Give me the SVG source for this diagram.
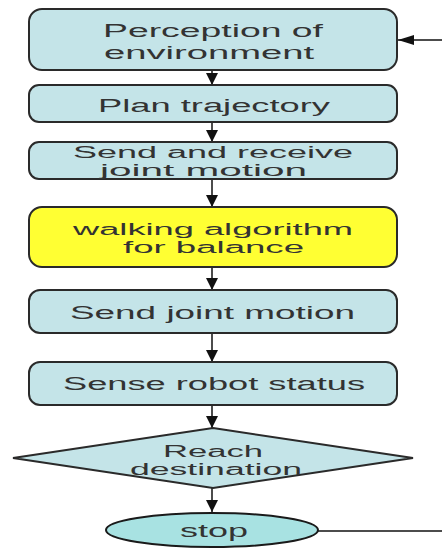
<svg xmlns="http://www.w3.org/2000/svg" width="442" height="548" viewBox="0 0 442 548">
<defs>
<style>
.box{fill:#c4e4e8;stroke:#2a2a2a;stroke-width:2}
.yel{fill:#ffff33;stroke:#2a2a2a;stroke-width:2}
.ell{fill:#a8e2e2;stroke:#1a1a1a;stroke-width:2}
.t{font-family:"Liberation Sans",Arial,sans-serif;font-size:18px;fill:#333}
.s{font-size:16px}
.c{stroke:#111;stroke-width:1.5;fill:none}
</style>
<marker id="ah" viewBox="0 0 12 12" refX="12" refY="6" markerWidth="12" markerHeight="12" markerUnits="userSpaceOnUse" orient="auto">
<path d="M0,0 L12,6 L0,12 Z" fill="#111"/>
</marker>
<marker id="ah2" viewBox="0 0 16 10" refX="16" refY="5" markerWidth="16" markerHeight="10" markerUnits="userSpaceOnUse" orient="auto">
<path d="M0,0 L16,5 L0,10 Z" fill="#111"/>
</marker>
</defs>
<rect width="442" height="548" fill="#fff"/>
<g id="connectors">
<line class="c" x1="212" y1="70" x2="212" y2="85" marker-end="url(#ah)"/>
<line class="c" x1="212" y1="122" x2="212" y2="142" marker-end="url(#ah)"/>
<line class="c" x1="212" y1="179" x2="212" y2="207" marker-end="url(#ah)"/>
<line class="c" x1="212" y1="267" x2="212" y2="290" marker-end="url(#ah)"/>
<line class="c" x1="212" y1="333" x2="212" y2="362" marker-end="url(#ah)"/>
<line class="c" x1="212" y1="405" x2="212" y2="428" marker-end="url(#ah)"/>
<line class="c" x1="212" y1="488" x2="212" y2="512" marker-end="url(#ah)"/>
<line class="c" x1="318" y1="531" x2="442" y2="531"/>
<line class="c" x1="442" y1="40" x2="398" y2="40" marker-end="url(#ah2)"/>
</g>
<g id="perception">
<rect class="box" x="29" y="9" width="368" height="61" rx="13"/>
<text class="t" x="103" y="37" textLength="220" lengthAdjust="spacingAndGlyphs">Perception of</text>
<text class="t" x="104" y="59" textLength="210" lengthAdjust="spacingAndGlyphs">environment</text>
</g>
<g id="plan">
<rect class="box" x="29" y="85" width="368" height="37" rx="10"/>
<text class="t" x="98" y="112" textLength="232" lengthAdjust="spacingAndGlyphs">Plan trajectory</text>
</g>
<g id="sendreceive">
<rect class="box" x="29" y="142" width="368" height="37" rx="10"/>
<text class="t s" x="73" y="158" textLength="280" lengthAdjust="spacingAndGlyphs">Send and receive</text>
<text class="t s" x="100" y="176" textLength="207" lengthAdjust="spacingAndGlyphs">joint motion</text>
</g>
<g id="walking">
<rect class="yel" x="29" y="207" width="368" height="60" rx="13"/>
<text class="t s" x="73" y="235" textLength="280" lengthAdjust="spacingAndGlyphs">walking algorithm</text>
<text class="t s" x="123" y="253" textLength="181" lengthAdjust="spacingAndGlyphs">for balance</text>
</g>
<g id="sendjoint">
<rect class="box" x="29" y="290" width="368" height="43" rx="11"/>
<text class="t" x="70" y="319" textLength="285" lengthAdjust="spacingAndGlyphs">Send joint motion</text>
</g>
<g id="sense">
<rect class="box" x="29" y="362" width="368" height="43" rx="11"/>
<text class="t" x="63" y="390" textLength="302" lengthAdjust="spacingAndGlyphs">Sense robot status</text>
</g>
<g id="reach">
<polygon class="box" points="213,428 413,458 213,488 13,458"/>
<text class="t s" x="163" y="457" textLength="100" lengthAdjust="spacingAndGlyphs">Reach</text>
<text class="t s" x="130" y="475" textLength="172" lengthAdjust="spacingAndGlyphs">destination</text>
</g>
<g id="stop">
<ellipse class="ell" cx="212" cy="530" rx="106" ry="17"/>
<text class="t" x="180" y="537" textLength="68" lengthAdjust="spacingAndGlyphs">stop</text>
</g>
</svg>
